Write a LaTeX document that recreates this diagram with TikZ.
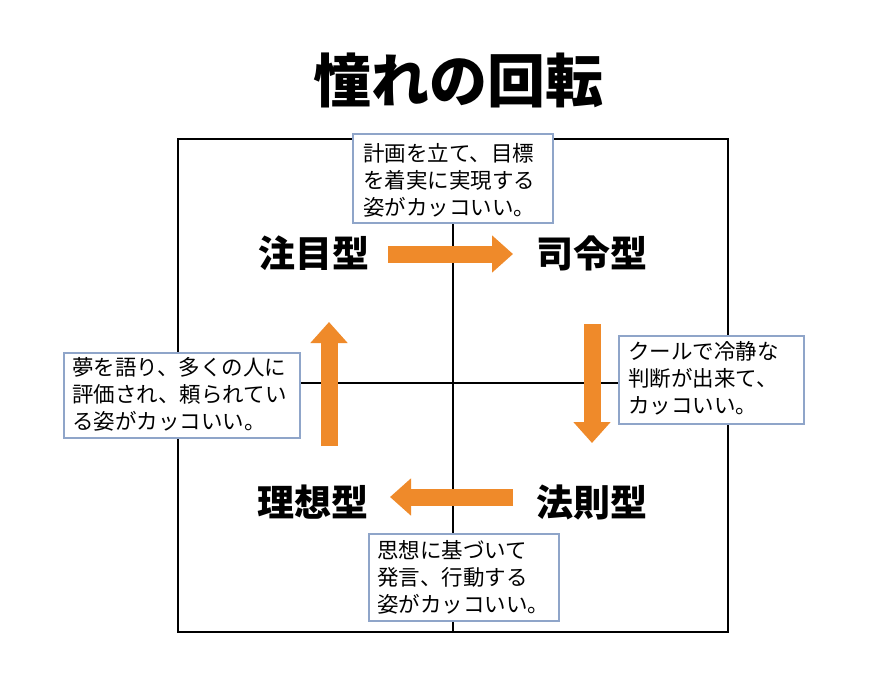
\documentclass[tikz,border=0pt]{standalone}
\usepackage{fontspec}
\newfontfamily\jp{Noto Sans CJK JP}
\newfontfamily\jpbold{Noto Sans CJK JP Black}
\usetikzlibrary{arrows.meta}
\definecolor{arroworange}{HTML}{EF8A2A}
\definecolor{boxblue}{HTML}{8FA5C9}
\tikzset{
  note/.style={draw=boxblue, line width=1.5pt, fill=white, inner sep=0pt, anchor=north west, align=left, font=\jp\fontsize{21}{27}\selectfont},
  notetext/.style={anchor=north west, align=left, font=\jp\fontsize{21.5}{27}\selectfont, inner sep=0pt},
  typelabel/.style={font=\jpbold\fontsize{37}{40}\selectfont},
  bigarrow/.style={draw=arroworange, line width=17pt, -{Triangle[length=21pt,width=36pt]}},
  gridline/.style={draw=black, line width=1.3pt}
}
\begin{document}
\begin{tikzpicture}[x=1pt,y=-1pt]
\useasboundingbox (0,0) rectangle (896,696);
\fill[white] (0,0) rectangle (896,696);
% title
\node[font=\jpbold\fontsize{58}{60}\selectfont] (title) at (458,80) {憧れの回転};
% square and cross
\coordinate (sqtl) at (178,139);
\coordinate (sqbr) at (728,632);
\draw[gridline] (sqtl) rectangle (sqbr);
\coordinate (vt) at (453,139);
\coordinate (vb) at (453,632);
\coordinate (hl) at (178,383);
\coordinate (hr) at (728,383);
\draw[gridline] (vt) -- (vb);
\draw[gridline] (hl) -- (hr);
% notes
\node[note, minimum width=200pt, minimum height=89pt] (ntop) at (352,133) {};
\node[notetext] (ttop) at (363,143) {計画を立て、目標\\を着実に実現する\\姿がカッコいい。};
\node[note, minimum width=236pt, minimum height=85pt] (nleft) at (63,352) {};
\node[notetext] (tleft) at (72,357) {夢を語り、多くの人に\\評価され、頼られてい\\る姿がカッコいい。};
\node[note, minimum width=185pt, minimum height=88pt] (nright) at (618,335) {};
\node[notetext] (tright) at (628,341) {クールで冷静な\\判断が出来て、\\カッコいい。};
\node[note, minimum width=190pt, minimum height=87pt] (nbottom) at (368,533) {};
\node[notetext] (tbottom) at (377,540) {思想に基づいて\\発言、行動する\\姿がカッコいい。};
% type labels
\node[typelabel] (chumoku) at (314,253) {注目型};
\node[typelabel] (shirei) at (592,253) {司令型};
\node[typelabel] (riso) at (313,502) {理想型};
\node[typelabel] (hosoku) at (592,502) {法則型};
% arrows
\coordinate (a1s) at (388,254);
\coordinate (a1e) at (513,254);
\coordinate (a2s) at (592,324);
\coordinate (a2e) at (592,443);
\coordinate (a3s) at (513,497);
\coordinate (a3e) at (390,497);
\coordinate (a4s) at (329,446);
\coordinate (a4e) at (329,322);
\draw[bigarrow] (a1s) -- (a1e);
\draw[bigarrow] (a2s) -- (a2e);
\draw[bigarrow] (a3s) -- (a3e);
\draw[bigarrow] (a4s) -- (a4e);
\end{tikzpicture}
\end{document}
